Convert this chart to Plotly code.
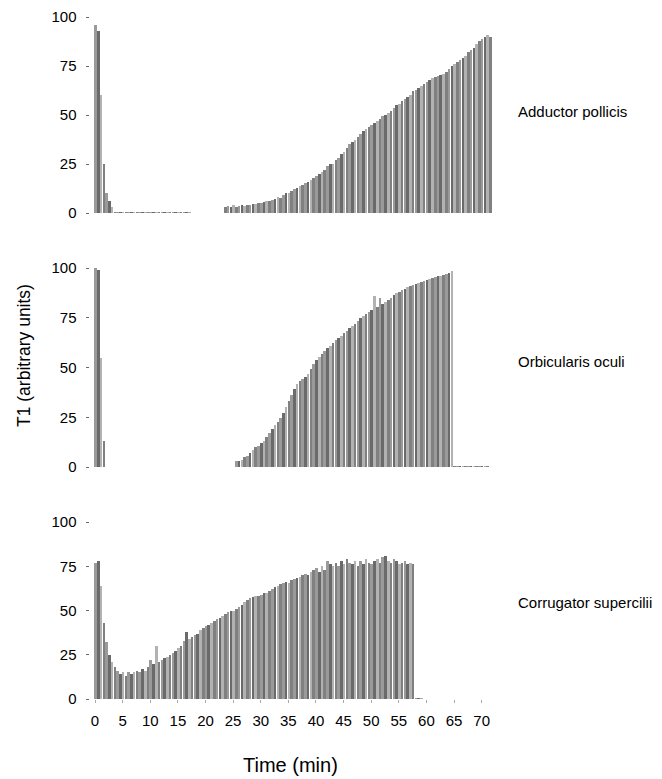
import numpy as np
import plotly.graph_objects as go

# ---------------- data (T1, arbitrary units; sampled every 0.5 min) ----------------
STEP = 0.5

# Adductor pollicis
AP_EARLY_T0 = 0.0
AP_EARLY = [96, 93, 60, 25, 10, 6, 3]
AP_TRACE_T0 = 3.5
AP_TRACE = [0.4, 0.4, 0.4, 0.4, 0.4, 0.4, 0.4, 0.4, 0.4, 0.4, 0.4, 0.4, 0.4, 0.4,
            0.4, 0.4, 0.4, 0.4, 0.4, 0.4, 0.4, 0.4, 0.4, 0.4, 0.4, 0.4, 0.4, 0.4]
AP_LATE_T0 = 23.5
AP_LATE = [3, 3.5, 3, 4, 3, 3.5, 4, 3.5, 4, 4,
           4.5, 4.5, 5, 5, 5.5, 6, 6, 6.5, 7, 8,
           7.5, 9, 10, 10, 11, 12, 13, 14, 14.5, 15.5,
           16, 17, 18, 19, 20, 21, 22, 24, 25, 25,
           27, 28, 30, 31, 33, 35, 36, 37.5, 39, 40.5,
           42, 43, 44, 45, 46, 47, 48, 49.5, 50, 51,
           52, 53.5, 55, 55.5, 57, 58, 59, 60, 62, 63,
           64, 65, 66, 67, 68, 69, 69.5, 70, 70.5, 71,
           72, 73.5, 75, 76, 77, 78, 79, 80, 82, 83,
           84, 86, 88, 89, 90, 91, 90]

# Orbicularis oculi
OO_EARLY_T0 = 0.0
OO_EARLY = [100, 99, 55, 13]
OO_LATE_T0 = 25.5
OO_LATE = [3, 3, 3.5, 5, 5.5, 7, 8.5, 10, 10.5, 12,
           13, 15, 17, 19, 21, 22.5, 24.5, 27, 30, 33,
           36, 39, 41.5, 43, 44, 45, 46.5, 49, 52, 54,
           55.5, 57, 58.5, 60, 61, 62.5, 64, 65, 66, 67.5,
           68.5, 70, 71, 72, 73.5, 75, 76, 77, 78, 79,
           86, 80.5, 85, 82, 83, 84, 85, 86.5, 87.5, 88,
           89, 89.5, 90.5, 91, 91.5, 92, 92.5, 93, 93.5, 94,
           94.5, 95, 95.5, 96, 96, 96.5, 97, 97.5, 98.5]
OO_TAIL_T0 = 65.0
OO_TAIL = [0.4, 0.4, 0.4, 0.4, 0.4, 0.4, 0.4, 0.4, 0.4, 0.4, 0.4, 0.4, 0.4]

# Corrugator supercilii
CS_T0 = 0.0
CS = [77, 78, 64, 43, 32, 25, 21, 18, 16, 14,
      15, 13, 15, 14, 15, 16, 15, 17, 16, 18,
      22, 20, 30, 21, 22, 23, 24, 25, 26, 27,
      29, 30, 33, 38, 34, 35, 36, 37, 39, 40,
      41, 42, 43, 44, 45, 46, 47, 48, 49, 49.5,
      50, 51, 52, 53, 55, 56, 57, 57.5, 58, 58,
      59, 60, 60, 61, 62, 63, 64, 65, 65.5, 66,
      65.5, 67, 68, 68.5, 69, 70, 70.5, 70, 72, 73,
      74, 72, 75, 73, 78, 76, 75, 77, 75, 78,
      76, 79, 77, 76, 78, 75, 78, 76, 79, 77,
      76, 78, 79, 77, 80, 81, 78, 77, 79, 78,
      76, 77, 78, 76, 77, 76]
CS_TAIL_T0 = 58.0
CS_TAIL = [0.4, 0.4, 0.4]

PANELS = [
    ("Adductor pollicis", [(AP_EARLY_T0, AP_EARLY), (AP_TRACE_T0, AP_TRACE), (AP_LATE_T0, AP_LATE)]),
    ("Orbicularis oculi", [(OO_EARLY_T0, OO_EARLY), (OO_LATE_T0, OO_LATE), (OO_TAIL_T0, OO_TAIL)]),
    ("Corrugator supercilii", [(CS_T0, CS), (CS_TAIL_T0, CS_TAIL)]),
]
X_TICKS = list(range(0, 75, 5))
Y_TICKS = [0, 25, 50, 75, 100]

# ---------------- styling / layout ----------------
W, H = 662, 779
FONT = "Liberation Sans, Arial, sans-serif"
GRAYS = ["#9a9a9a", "#6a6a6a", "#b2b2b2", "#808080"]

X_DOMAIN = [89.5 / W, 495.5 / W]
# pixel rows of value 0 and value 100 for each panel
Y_PIX = [(213, 17), (467, 268), (699, 522)]
LABEL_Y = [112, 362, 602]

fig = go.Figure()
for i, (name, segs) in enumerate(PANELS):
    t_all, v_all = [], []
    for t0, vals in segs:
        t_all.extend(t0 + STEP * np.arange(len(vals)))
        v_all.extend(vals)
    colors = [GRAYS[k % len(GRAYS)] for k in range(len(v_all))]
    sfx = "" if i == 0 else str(i + 1)
    fig.add_trace(go.Bar(
        x=t_all, y=v_all, width=0.46,
        marker=dict(color=colors, line=dict(width=0)),
        xaxis="x" + sfx, yaxis="y" + sfx, showlegend=False,
        hoverinfo="x+y",
    ))
    y0, y1 = Y_PIX[i]
    last = (i == 2)
    fig.layout["xaxis" + sfx] = dict(
        domain=X_DOMAIN, range=[-1, 72.5], anchor="y" + sfx,
        automargin=False,
        showgrid=False, zeroline=False, showline=False,
        tickvals=X_TICKS, showticklabels=last,
        ticks="outside" if last else "", ticklen=3, tickcolor="#aaa",
        tickfont=dict(family=FONT, size=15, color="black"),
        ticklabelstandoff=5,
    )
    fig.layout["yaxis" + sfx] = dict(
        domain=[1 - y0 / H, 1 - y1 / H], range=[0, 100], anchor="x" + sfx,
        automargin=False,
        showgrid=False, zeroline=False, showline=False,
        tickvals=Y_TICKS, ticks="outside", ticklen=3, tickcolor="#666",
        tickfont=dict(family=FONT, size=15, color="black"),
        ticklabelstandoff=6,
    )
    fig.add_annotation(
        text=name, xref="paper", yref="paper", x=516 / W, y=1 - LABEL_Y[i] / H,
        xanchor="left", yanchor="middle", showarrow=False,
        font=dict(family=FONT, size=15, color="black"),
    )

fig.add_annotation(
    text="T1 (arbitrary units)", xref="paper", yref="paper",
    x=24 / W, y=1 - 356 / H, textangle=-90, showarrow=False,
    xanchor="center", yanchor="middle",
    font=dict(family=FONT, size=17.5, color="black"),
)
fig.add_annotation(
    text="Time (min)", xref="paper", yref="paper",
    x=290 / W, y=1 - 765 / H, showarrow=False,
    xanchor="center", yanchor="middle",
    font=dict(family=FONT, size=20, color="black"),
)

fig.update_layout(
    width=W, height=H, margin=dict(l=0, r=0, t=0, b=0, autoexpand=False),
    paper_bgcolor="white", plot_bgcolor="white",
    bargap=0, showlegend=False,
)

fig.write_html(
    "out.html",
    config={"displayModeBar": False},
    post_script="document.body.style.margin='0';document.body.style.overflow='hidden';",
)
